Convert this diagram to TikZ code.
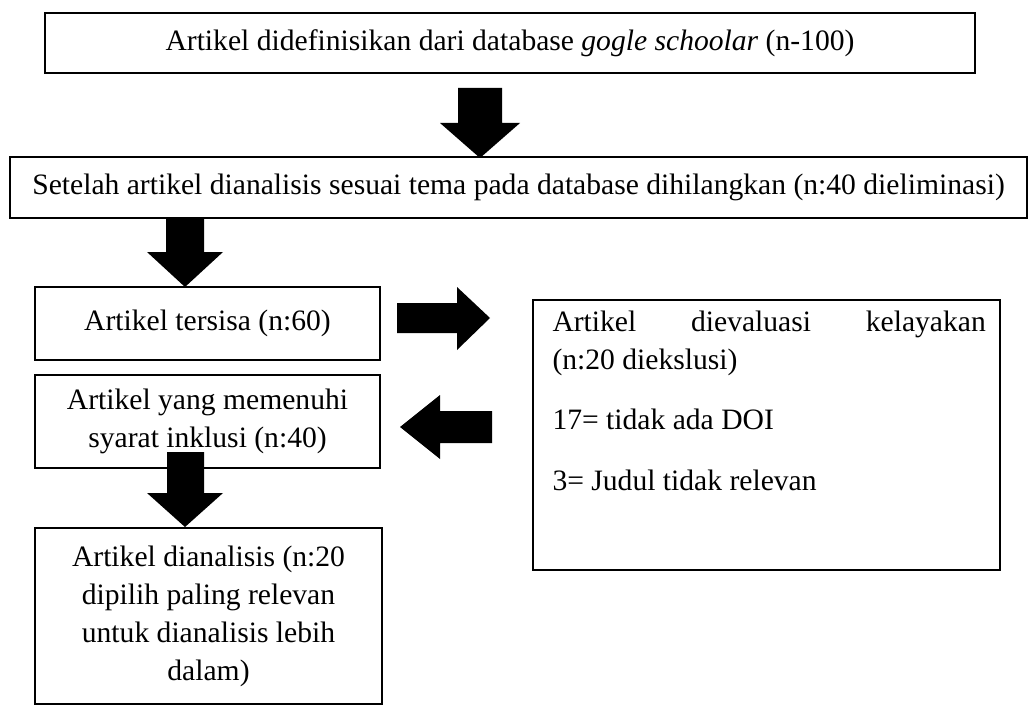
\documentclass[tikz,border=0pt]{standalone}
\usepackage{fontspec}
\setmainfont{Liberation Serif}

\tikzset{every picture/.style={line width=0.75pt}}
\tikzset{
  box/.style={draw, line width=1.5pt, inner sep=0pt, align=center},
  blockarrow/.style={fill={rgb, 255:red, 0; green, 0; blue, 0 }, draw=none},
}

\begin{document}
\begin{tikzpicture}[x=0.75pt,y=0.75pt,yscale=-1,xscale=1,font=\fontsize{22.2}{28.5}\selectfont]
	\useasboundingbox (0,0) rectangle (1028,706); %set diagram size

	% Text Node
	\node [box, minimum width=697.5pt, minimum height=45pt] (src) at (510,43) {Artikel didefinisikan dari database \textit{gogle schoolar} (n-100)};
	% Text Node
	\node [box, minimum width=762.75pt, minimum height=45.75pt] (tema) at (518.5,187.5) {Setelah artikel dianalisis sesuai tema pada database dihilangkan (n:40 dieliminasi)};
	% Text Node
	\node [box, minimum width=258.75pt, minimum height=54.75pt] (sisa) at (207.5,323.5) {Artikel tersisa (n:60)};
	% Text Node
	\node [box, minimum width=258.75pt, minimum height=69.75pt] (inklusi) at (207.5,421.5) {Artikel yang memenuhi\\syarat inklusi (n:40)};
	% Text Node
	\node [box, minimum width=260.25pt, minimum height=132pt] (hasil) at (208.5,616) {Artikel dianalisis (n:20\\dipilih paling relevan\\untuk dianalisis lebih\\dalam)};
	%Shape: Rectangle
	\node [box, minimum width=350.25pt, minimum height=202.5pt] (eval) at (766.5,435) {};
	% Text Node
	\node [anchor=north west, inner sep=0pt, text width=325pt, align=justify] (evaltxt) at (552,310) {Artikel dievaluasi kelayakan\linebreak (n:20 diekslusi)\par\vspace{17pt}17= tidak ada DOI\par\vspace{17pt}3= Judul tidak relevan};

	%Shape: Down Arrow
	\draw [blockarrow] (458,88) -- (502,88) -- (502,123) -- (520,123) -- (480,158) -- (440,123) -- (458,123) -- cycle ;
	%Shape: Down Arrow
	\draw [blockarrow] (166,219) -- (204,219) -- (204,252) -- (223,252) -- (185,287) -- (147,252) -- (166,252) -- cycle ;
	%Shape: Right Arrow
	\draw [blockarrow] (397,303) -- (457,303) -- (457,287) -- (490,318) -- (457,350) -- (457,333) -- (397,333) -- cycle ;
	%Shape: Left Arrow
	\draw [blockarrow] (492,411) -- (440,411) -- (440,395) -- (400,427) -- (440,459) -- (440,443) -- (492,443) -- cycle ;
	%Shape: Down Arrow
	\draw [blockarrow] (167,452) -- (204,452) -- (204,493) -- (223,493) -- (185,527) -- (147,493) -- (167,493) -- cycle ;

\end{tikzpicture}
\end{document}
